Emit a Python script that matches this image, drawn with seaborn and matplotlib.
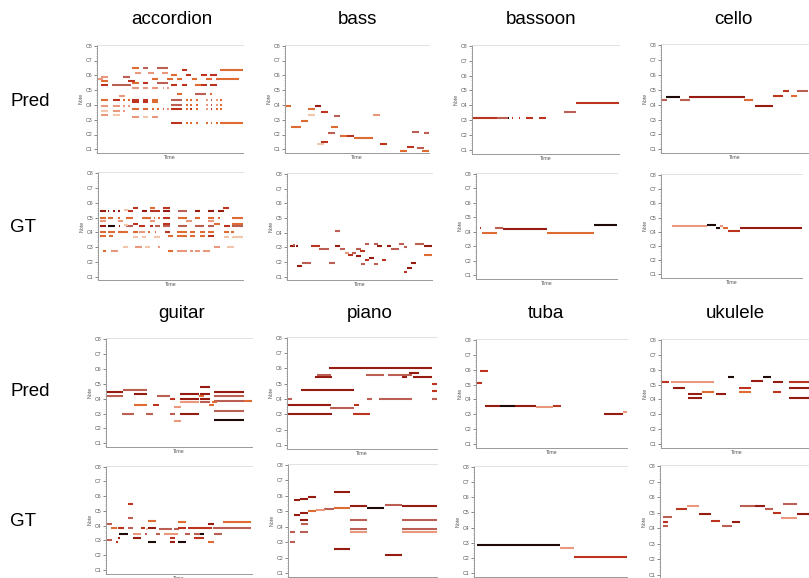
import matplotlib
matplotlib.use("Agg")
import matplotlib.pyplot as plt
import numpy as np
import pandas as pd
import seaborn as sns
from matplotlib.ticker import FixedLocator, MultipleLocator, NullLocator

sns.set_theme(style="white")
plt.rcParams['font.family'] = ['Liberation Sans', 'DejaVu Sans']

instruments = ["accordion", "bass", "bassoon", "cello", "guitar", "piano", "tuba", "ukulele"]
row_labels = ["Pred", "GT", "Pred", "GT"]
octave_ticks = [24, 36, 48, 60, 72, 84, 96, 108]
octave_labels = ["C1", "C2", "C3", "C4", "C5", "C6", "C7", "C8"]

# velocity-level colour codes
vel_palette = {"k": "#1e0b08", "d": "#961c12", "r": "#bc3420", "b": "#bb5f55",
               "o": "#de6c32", "s": "#e9987e", "p": "#f2c6ac"}

# (start, end, midi pitch, velocity code); time normalised 0-100
accordion_pred = [
    (0, 4, 81, 's'), (3, 7.6, 83, 's'), (3, 7.6, 79, 'o'), (3, 7.6, 76, 'r'), (10.3, 23, 76, 'b'),
    (17.9, 22.5, 83, 'b'), (21.3, 26, 79, 'r'),
    (24.3, 29, 90, 'o'), (31.2, 35, 90, 'b'), (41.3, 48.9, 90, 'b'),
    (26, 29.8, 86, 's'), (35, 39, 86, 's'), (44.3, 48.9, 86, 's'),
    (24.3, 29, 78, 'o'), (31.2, 35, 78, 'r'), (41.3, 48.9, 78, 'b'),
    (24.3, 29, 74, 's'), (31.2, 35, 74, 's'), (38, 42, 74, 's'), (45, 46, 74, 's'), (48, 49, 74, 's'),
    (38, 42, 81, 'o'), (48, 52.3, 81, 'o'), (15, 19, 67, 's'),
    (3, 7.6, 64, 'o'), (11, 15.6, 64, 'r'), (17.9, 19, 64, 'o'), (21.3, 22.5, 64, 'o'), (24.3, 29, 64, 'r'),
    (31.2, 35, 64, 'r'), (38, 42, 64, 'o'),
    (24.3, 29, 62, 'r'), (31.2, 35, 62, 'r'), (38, 42, 62, 'o'),
    (3, 7.6, 59, 's'), (11, 15.6, 59, 's'), (17.9, 19, 59, 's'), (21.3, 22.5, 59, 's'),
    (24.3, 29, 57, 'o'), (31.2, 35, 57, 'o'), (38, 39, 57, 'o'), (41.3, 42.3, 57, 'o'), (45, 46, 57, 'o'), (48, 49, 57, 's'),
    (3, 7.6, 55, 'p'), (11, 15.6, 55, 's'), (17.9, 19, 55, 's'),
    (3, 7.6, 52, 's'), (11, 15.6, 52, 'p'),
    (24.3, 29, 50, 's'), (31.2, 35, 50, 'p'), (38, 42, 50, 's'),
    (51, 54.6, 84, 'o'), (61, 64.6, 84, 'r'), (71, 75.2, 84, 'r'), (77.5, 82, 84, 'r'),
    (58, 61.5, 88, 'r'), (84.4, 100, 88, 'o'),
    (54.6, 58, 81, 'o'), (65, 68.3, 81, 'o'), (74.8, 78.7, 81, 'o'), (81.7, 97, 81, 'o'),
    (51, 54.6, 76, 'r'), (58, 61.5, 76, 'r'), (71, 75.2, 76, 'r'), (77.5, 82, 76, 'r'), (67, 71, 76, 'o'),
    (54.6, 58, 69, 'o'), (67, 74.8, 69, 'b'), (77.5, 78.5, 69, 'o'),
    (51, 58, 64, 'b'), (61, 62, 64, 'o'), (64, 65, 64, 'o'), (68, 69, 64, 'o'), (74.8, 75.8, 64, 's'),
    (78, 79, 64, 'b'), (81.7, 82.7, 64, 's'), (84.4, 85.4, 64, 'o'),
    (51, 58, 60, 'b'), (61, 62, 60, 'o'), (64, 65, 60, 'o'), (68, 69, 60, 'o'), (74.8, 75.8, 60, 's'),
    (78, 79, 60, 'b'), (81.7, 82.7, 60, 's'), (84.4, 85.4, 60, 'o'),
    (51, 58, 57, 'r'), (61, 62, 57, 'o'), (64, 65, 57, 'r'), (68, 69, 57, 'o'), (74.8, 75.8, 57, 's'),
    (78, 79, 57, 'r'), (81.7, 82.7, 57, 'o'), (84.4, 85.4, 57, 'o'),
    (51, 58, 45, 'r'), (61, 62, 45, 'o'), (64, 65, 45, 'o'), (68, 69, 45, 'o'), (74.8, 75.8, 45, 'o'),
    (78, 79, 45, 'o'), (81.7, 82.7, 45, 'o'), (84.4, 100, 45, 'o'),
]

accordion_gt = [
    (23.8, 27.7, 80, 'r'), (35.8, 39.3, 80, 'o'), (44.6, 49.7, 80, 'r'), (86.1, 90, 80, 'r'),
    (1.2, 5.3, 77, 'd'), (6.9, 7.9, 77, 'd'), (10.4, 11.4, 77, 'd'), (13.9, 14.9, 77, 'd'), (20.8, 24.2, 77, 'r'),
    (30, 33.5, 77, 'd'), (35.8, 42.7, 77, 'r'), (45, 49.7, 77, 'd'), (55.4, 61.2, 77, 'b'), (67, 70.4, 77, 'd'),
    (76.2, 80.1, 77, 'd'), (83.1, 86.6, 77, 'd'),
    (17.8, 20.8, 78, 'p'),
    (1.2, 5.3, 72, 'o'), (6.9, 10.4, 72, 'o'), (13.9, 14.9, 72, 'o'), (19.6, 24.2, 72, 'o'), (30, 36.3, 72, 'o'),
    (38.6, 39.6, 72, 'o'), (41.6, 42.6, 72, 'o'), (45, 49.7, 72, 'r'), (55.4, 61.2, 72, 'o'), (67, 70.4, 72, 'o'),
    (76.2, 80.1, 72, 'o'), (83.1, 84.1, 72, 'o'), (92.4, 100, 72, 'o'),
    (1.2, 5.3, 69, 's'), (13.9, 17.3, 69, 's'), (35.8, 39.3, 69, 's'), (60.7, 64.7, 69, 's'), (76.2, 80.1, 69, 's'),
    (23.8, 27.7, 67, 'r'), (45, 49.7, 67, 'r'), (80.1, 83.8, 67, 'o'), (92.4, 100, 67, 'o'),
    (17.8, 20.8, 66, 'p'),
    (1.2, 5.3, 65, 'd'), (6.9, 11.5, 65, 'k'), (14.5, 15.5, 65, 'd'), (19.6, 24.2, 65, 'b'), (28.4, 32.3, 65, 'r'),
    (35.8, 37.6, 65, 'r'), (39.3, 42.7, 65, 'b'), (45, 49.7, 65, 'b'), (55.4, 61.2, 65, 'b'), (67, 73.2, 65, 'b'),
    (76.2, 80.1, 65, 'b'), (86.6, 90.8, 65, 'r'), (92.4, 100, 65, 'b'),
    (1.2, 5.3, 60, 'o'), (6.9, 11.5, 60, 'o'), (13.9, 20.8, 60, 'o'), (23.8, 27.7, 60, 'o'), (28.4, 32.3, 60, 's'),
    (34.6, 35.6, 60, 'o'), (39.3, 40.3, 60, 'o'), (46.2, 49.7, 60, 'r'), (54.3, 61.2, 60, 'o'), (63.5, 67, 60, 'o'),
    (70.4, 73.9, 60, 'o'), (76.2, 80.1, 60, 'o'), (86.6, 90, 60, 'o'), (91.7, 93.5, 60, 'o'),
    (1.2, 5.3, 57, 'o'), (7.6, 10.4, 57, 'o'), (48.5, 51.5, 57, 'o'), (54.7, 61.2, 57, 'o'), (63.5, 67, 57, 'o'),
    (70.4, 73.9, 57, 'o'), (75.8, 80.1, 57, 'r'),
    (23.8, 27.7, 56, 'p'), (30, 33, 56, 'p'), (38.6, 42.7, 56, 'p'), (86.6, 90, 56, 'p'), (92.4, 100, 56, 'p'),
    (17.3, 20.8, 48, 'p'), (25.4, 30, 48, 's'), (32.3, 35.8, 48, 'p'), (41.6, 42.7, 48, 's'), (79.7, 83.8, 48, 's'),
    (88.9, 93.5, 48, 'p'),
    (3.5, 5.3, 45, 'o'), (9.2, 13.9, 45, 's'), (48.5, 52, 45, 'o'), (54.3, 61.2, 45, 's'), (63.5, 65.8, 45, 's'),
    (67, 70, 45, 's'), (72.7, 77.4, 45, 's'),
]

bass_pred = [
    (0, 4.2, 59, 'o'), (4.2, 11.2, 42, 'o'), (11.2, 15.8, 47, 'o'), (15.8, 20.5, 57, 'o'), (15.8, 20.9, 52, 'p'),
    (20.5, 25.1, 59, 'd'), (25.1, 29.8, 54, 'r'), (22.1, 27.4, 28, 'p'), (25.1, 29.8, 30, 'r'),
    (33.7, 38.4, 51, 'b'), (32.1, 36.7, 42, 'o'), (29.8, 34.4, 37, 'b'), (38.4, 43, 35, 'o'), (43, 47.7, 35, 'r'),
    (47.7, 61.2, 33, 'o'), (61.2, 66.3, 52, 's'), (66.3, 70.9, 28, 'r'), (80.2, 84.9, 23, 'o'),
    (84.9, 89.5, 26, 'r'), (88.4, 93, 38, 'b'), (91.9, 96.5, 25, 'b'), (95.3, 100, 23, 'o'), (96.5, 100, 37, 'b'),
]

bass_gt = [
    (2.3, 5.7, 49, 'd'), (3.9, 5.7, 50, 'b'), (6.2, 7.6, 49, 'd'), (6.9, 10.3, 33, 'd'), (10.3, 16.8, 35, 'b'),
    (16.8, 23, 49, 'r'), (21.8, 29.2, 47, 'b'), (28.7, 33.3, 35, 'b'), (33.3, 36.8, 61, 'b'), (33.3, 36.8, 49, 'd'),
    (36.8, 39.8, 47, 'b'), (39.8, 42.5, 43, 's'), (42.1, 45.3, 42, 'r'), (44.8, 47.6, 43, 'b'),
    (47.6, 51.3, 41, 'd'), (47.6, 51.3, 47, 'b'), (50.6, 53.6, 45, 'r'), (53.6, 56.8, 51, 'b'),
    (53.6, 56.8, 38, 'r'), (51, 53.6, 34, 'b'), (56.8, 59.8, 39, 'd'), (59.8, 62.8, 51, 'b'), (59.8, 62.8, 34, 'b'),
    (62.1, 65.5, 49, 'd'), (65.5, 68.3, 38, 'r'), (69, 72, 49, 'd'), (72, 77.5, 47, 'b'), (77.5, 80.5, 51, 'b'),
    (80.5, 82.8, 48, 'b'), (80.5, 82.8, 28, 'r'), (82.8, 86.2, 31, 'd'), (85.7, 89, 35, 'd'), (88.5, 94.3, 51, 'b'),
    (94.3, 100, 49, 'd'), (94.3, 100, 42, 'o'),
]

bassoon_pred = [
    (0, 17, 50, 'r'), (17, 24.2, 50, 'b'), (24.2, 24.9, 50, 'k'), (27.1, 27.9, 50, 'r'), (31.7, 32.4, 50, 'r'),
    (36.9, 41.4, 50, 'r'), (45.9, 50.5, 50, 'r'), (62.7, 70.8, 55, 'b'), (70.8, 100, 62, 'r'),
]

bassoon_gt = [
    (2.8, 3.3, 63, 'r'), (4.5, 14.7, 59, 'o'), (13.5, 19, 63, 'b'), (19, 50.7, 62, 'd'),
    (50.7, 83.4, 59, 'o'), (83.4, 100, 66, 'k'),
]

cello_pred = [
    (0, 3.8, 64, 'b'), (3.2, 12.9, 66, 'k'), (12.9, 19.7, 64, 'b'), (19, 57, 66, 'd'), (56.6, 62.7, 64, 'o'),
    (63.8, 76.2, 59, 'd'), (76.2, 83, 67, 'r'), (83, 86.9, 71, 'r'), (88.7, 92.8, 67, 'o'), (92.5, 100, 71, 'b'),
]

cello_gt = [
    (7.6, 32.5, 65, 's'), (32.5, 38.9, 66, 'k'), (39.1, 41.5, 63, 'k'), (41.9, 44.3, 65, 's'),
    (44.3, 47.4, 63, 'o'), (47.4, 56.2, 61, 'r'), (56.2, 100, 63, 'd'),
]

guitar_pred = [
    (0, 11.4, 65, 'd'), (0, 11.4, 62, 'b'), (11.4, 27.9, 67, 'b'), (19.2, 27.9, 64, 'd'), (19.2, 27.9, 55, 'o'),
    (10.8, 19.2, 48, 'b'), (27.5, 32, 48, 'b'), (32, 36.6, 55, 'r'), (35.2, 43.5, 62, 'b'), (43.5, 47.4, 60, 'r'),
    (43.5, 47.4, 48, 'b'), (46.9, 51.3, 53, 's'), (46.9, 51.3, 42, 's'),
    (50.8, 63.4, 64, 'd'), (50.8, 63.4, 60, 'd'), (50.8, 63.4, 57, 's'), (50.8, 63.4, 48, 'd'),
    (64.1, 71.4, 69, 'd'), (63.4, 67.3, 62, 'o'), (64.1, 71.4, 64, 'd'), (64.1, 71.4, 60, 'd'), (64.1, 71.4, 57, 'b'),
    (70.3, 74.1, 55, 'o'), (72.5, 76, 57, 'o'),
    (74.1, 94.7, 65, 'd'), (74.1, 94.7, 62, 'b'), (74.1, 94.7, 58, 'b'), (74.1, 94.7, 50, 'b'),
    (74.1, 94.7, 43, 'k'), (94.3, 100, 58, 'o'),
]

guitar_gt = [
    (0.5, 3.9, 61, 'b'), (0.5, 3.9, 48, 'b'), (3.2, 7.8, 58, 'o'), (8.5, 9.6, 50, 'd'), (6.9, 8, 47, 'r'),
    (8.5, 12.4, 58, 'r'), (9.2, 15.3, 53, 'k'), (15.3, 18.8, 78, 'r'), (15.3, 18.8, 66, 'b'), (15.3, 18.8, 58, 'b'),
    (18.8, 23.8, 53, 's'), (18.8, 23.8, 50, 'd'), (23.8, 26.8, 58, 'r'), (26.8, 27.9, 53, 'b'), (27.5, 29.1, 57, 'p'),
    (29.1, 34.3, 58, 'd'), (29.1, 34.3, 64, 'o'), (29.1, 34.3, 47, 'k'), (36.6, 45.1, 57, 'b'), (34.3, 37.1, 53, 'b'),
    (39.4, 49, 53, 's'), (46.7, 49.7, 57, 'b'), (43.9, 47.4, 50, 'r'), (43.9, 47.4, 47, 'd'),
    (49, 54.9, 63, 'o'), (49, 54.9, 58, 'r'), (49, 54.9, 47, 'k'), (54.2, 57.2, 53, 'b'),
    (56.5, 72.5, 58, 'r'), (60, 64.1, 53, 'b'), (64.1, 67.3, 53, 'k'), (60, 67.3, 50, 'r'),
    (69.6, 74.1, 61, 'd'), (69.6, 74.1, 47, 'o'), (74.1, 79.4, 53, 'b'),
    (73.2, 99.3, 58, 'b'), (80.1, 99.3, 63, 'o'),
]

piano_pred = [
    (28.2, 96.7, 84, 'd'), (20, 29.6, 79, 'b'), (18.4, 30, 77, 'd'), (9.6, 44.4, 67, 'd'), (0, 3.3, 60, 'b'),
    (0, 29.6, 55, 'd'), (28.9, 44.4, 53, 'b'), (44.4, 47.8, 55, 'r'), (0, 30, 48, 'd'), (43.8, 55.6, 48, 'r'),
    (53.3, 56.7, 60, 'b'), (61.1, 83.3, 60, 'b'), (52.7, 64.4, 79, 'b'), (67.3, 83.3, 79, 'b'),
    (81.1, 88.2, 80, 'd'), (76.7, 80, 77, 'd'), (83.8, 96.7, 77, 'd'), (96.7, 100, 72, 'r'),
    (96.7, 100, 66, 'r'), (96.7, 100, 60, 'b'),
]

piano_gt = [
    (1.6, 4.5, 56, 'b'), (1.6, 4.5, 48, 'b'), (3.8, 7.8, 81, 'd'), (3.8, 7.8, 69, 'd'), (7.8, 13.4, 82, 'd'),
    (7.8, 13.4, 71, 'd'), (8.3, 13.4, 65, 'd'), (8.9, 13.4, 62, 'b'), (8.3, 13.4, 56, 'b'),
    (13.4, 18.8, 83, 'd'), (13.4, 18.8, 72, 'o'), (18.8, 24.6, 73, 's'), (23.9, 30.6, 74, 'b'),
    (30.6, 41.8, 75, 'o'), (30.6, 41.8, 87, 'd'), (30.6, 41.8, 43, 'd'),
    (41.8, 53, 76, 'd'), (41.8, 53, 65, 'b'), (41.8, 53, 58, 'b'), (41.8, 53, 56, 's'),
    (53, 64.2, 75, 'k'), (64.9, 76.5, 77, 'b'), (64.9, 76.5, 38, 'd'),
    (76.5, 100, 76, 'd'), (76.5, 100, 65, 'b'), (76.5, 100, 58, 'b'), (76.5, 100, 56, 's'),
]

tuba_pred = [
    (2.7, 8.2, 83, 'r'), (0, 4, 73, 'r'), (6, 15.6, 55, 'd'), (15.6, 25.9, 55, 'k'), (25.9, 39.5, 55, 'd'),
    (39.5, 51, 54, 's'), (51, 56.5, 55, 'r'), (85, 97.3, 48, 'd'), (97.3, 100, 50, 's'),
]

tuba_gt = [
    (2, 56.5, 46, 'k'), (56.5, 65.3, 44, 's'), (65.3, 100, 37, 'r'),
]

ukulele_pred = [
    (0, 5.4, 74, 'r'), (6.8, 35.1, 74, 's'), (8.1, 16.2, 69, 'd'), (17.6, 27, 64, 'd'), (17.6, 27, 61, 'd'),
    (27, 35.1, 66, 'o'), (36.5, 43.2, 64, 'd'), (44.6, 48.6, 78, 'k'), (51.4, 59.5, 69, 'r'), (51.4, 59.5, 66, 'o'),
    (59.5, 67.6, 75, 'd'), (67.6, 73, 78, 'k'), (74.3, 81.1, 74, 'd'), (74.3, 79.7, 66, 'r'),
    (84.5, 100, 74, 'r'), (84.5, 100, 69, 'd'), (84.5, 100, 61, 'd'),
]

ukulele_gt = [
    (2, 8.1, 69, 'b'), (2, 5.4, 65, 'r'), (2, 5.4, 62, 'b'), (10.8, 17.6, 75, 'r'), (17.6, 25.7, 77, 's'),
    (25.7, 33.8, 71, 'd'), (33.8, 39.2, 66, 'r'), (40.5, 47.3, 62, 'b'), (47.3, 52.7, 65, 'd'),
    (52.7, 62.2, 77, 'b'), (62.2, 68.9, 77, 'd'), (68.9, 74.3, 75, 'b'), (74.3, 79.7, 72, 'r'),
    (79.7, 89.9, 68, 's'), (81.1, 89.9, 79, 'b'), (89.9, 100, 71, 'd'),
]

panels = [
    (accordion_pred, (97, 243, 45.7, 149.3)), (bass_pred, (285, 429, 45.7, 149.3)),
    (bassoon_pred, (472, 619, 45.7, 150)), (cello_pred, (661, 808, 45, 149.3)),
    (accordion_gt, (98, 243, 173.3, 276.7)), (bass_gt, (287, 432, 174, 276.7)),
    (bassoon_gt, (476, 617, 174, 275)), (cello_gt, (661, 802, 175, 274.3)),
    (guitar_pred, (106, 252, 339, 443.3)), (piano_pred, (287, 437, 337.7, 445)),
    (tuba_pred, (476, 627, 340, 444)), (ukulele_pred, (661, 812, 340, 444)),
    (guitar_gt, (106, 252, 466.7, 570)), (piano_gt, (288, 437, 465, 573.3)),
    (tuba_gt, (474, 627, 467, 573)), (ukulele_gt, (660, 812, 466, 575)),
]

W, H = 809, 578
fig = plt.figure(figsize=(W / 100, H / 100), dpi=100)
fig.patch.set_facecolor("white")

for notes, (xl, xr, y8, y1) in panels:
    top_px = y8 - 1.2
    bot_px = y1 + 3.5
    mpp = 84.0 / (y1 - y8)
    ax = fig.add_axes([xl / W, 1 - bot_px / H, (xr - xl) / W, (bot_px - top_px) / H])
    rows = []
    for i, (s, e, p, c) in enumerate(notes):
        rows.append((i, s, p, c))
        rows.append((i, e, p, c))
    df = pd.DataFrame(rows, columns=["nid", "time", "pitch", "vel"])
    sns.lineplot(data=df, x="time", y="pitch", hue="vel", units="nid", estimator=None,
                 palette=vel_palette, legend=False, ax=ax, linewidth=1.5, sort=False,
                 solid_capstyle="butt")
    ax.set_xlim(0, 100)
    ax.set_ylim(24 - 3.5 * mpp, 108 + 1.2 * mpp)
    ax.yaxis.set_major_locator(FixedLocator(octave_ticks))
    ax.set_yticklabels(octave_labels)
    ax.yaxis.set_minor_locator(MultipleLocator(2))
    ax.xaxis.set_major_locator(NullLocator())
    ax.tick_params(axis="y", which="major", left=True, length=2, width=0.5, labelsize=3.8,
                   pad=1, colors="#555555")
    ax.tick_params(axis="y", which="minor", left=True, length=1, width=0.4, colors="#999999")
    ax.set_xlabel("Time", fontsize=3.8, labelpad=1.5, color="#555555")
    ax.set_ylabel("Note", fontsize=3.8, labelpad=1.5, color="#555555")
    ax.set_facecolor("white")
    ax.spines["right"].set_visible(False)
    ax.spines["top"].set_color("#dddddd")
    ax.spines["top"].set_linewidth(0.6)
    for sp in ("left", "bottom"):
        ax.spines[sp].set_color("#999999")
        ax.spines[sp].set_linewidth(0.7)

title_pos = [(172, 20), (357, 20), (541, 20), (733, 20),
             (182, 313), (370, 313), (546, 313), (735, 313)]
for name, (x, y) in zip(instruments, title_pos):
    fig.text(x / W, 1 - y / H, name, ha="center", va="center", fontsize=13.5, color="black")

row_pos = [101, 227, 392, 521]
for lab, y in zip(row_labels, row_pos):
    fig.text(10 / W, 1 - y / H, lab, ha="left", va="center", fontsize=13.5, color="black")

fig.savefig("out.png", dpi=100, facecolor="white")
